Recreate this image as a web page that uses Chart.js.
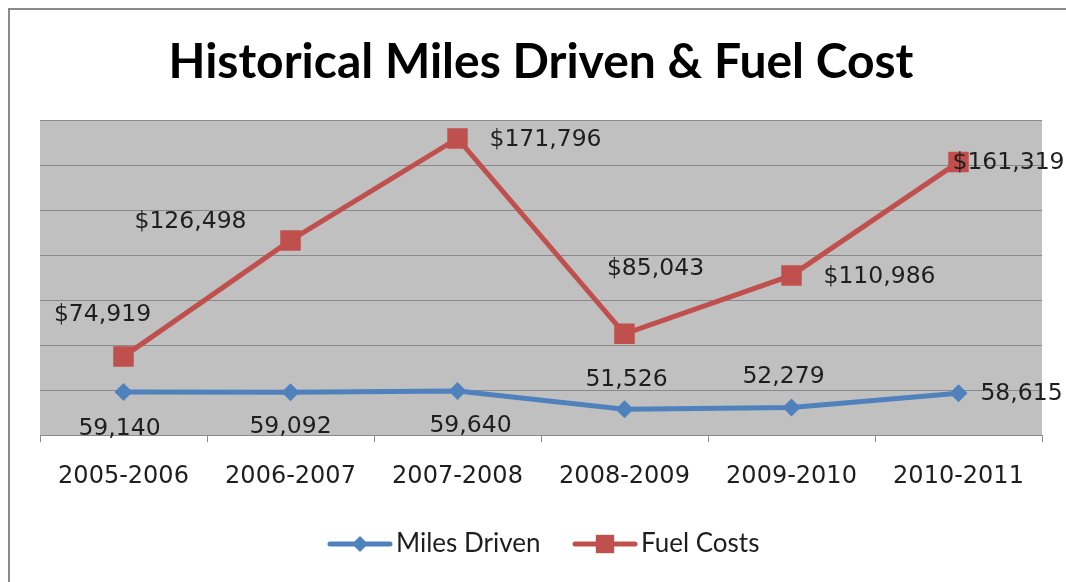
<!DOCTYPE html>
<html>
<head>
<meta charset="utf-8">
<script src="https://cdn.jsdelivr.net/npm/chart.js@4"></script>
<style>
  html, body { margin: 0; padding: 0; background: #fff; }
  #wrap { width: 1066px; height: 582px; position: relative; }
</style>
</head>
<body>
<div id="wrap"><canvas id="myChart" width="1066" height="582"></canvas></div>
<script>
const categories = ['2005-2006', '2006-2007', '2007-2008', '2008-2009', '2009-2010', '2010-2011'];
const milesDriven = [59140, 59092, 59640, 51526, 52279, 58615];
const fuelCosts = [74919, 126498, 171796, 85043, 110986, 161319];
const yMin = 40000;
const yMax = 180000;
const yStep = 20000;

// label offsets from each point (dx, dy), like Excel's hand-placed labels
const milesLabelOffsets = [[-4, 37], [0, 35], [13, 35], [2, -29], [-8, -31], [63, 1]];
const fuelLabelOffsets = [[-21, -42], [-100, -19], [88, 1], [31, -65], [88, 2], [50, 1]];

const blue = '#4F81BD';
const red = '#C0504D';

const plotBg = {
    id: 'plotBg',
    beforeDraw(chart) {
        const ctx = chart.ctx;
        const a = chart.chartArea;
        ctx.save();
        ctx.fillStyle = '#fff';
        ctx.fillRect(0, 0, chart.width, chart.height);
        ctx.strokeStyle = '#8a8a8a';
        ctx.lineWidth = 2;
        ctx.beginPath();
        ctx.moveTo(9, chart.height);
        ctx.lineTo(9, 9);
        ctx.lineTo(chart.width, 9);
        ctx.stroke();
        ctx.fillStyle = '#C0C0C0';
        ctx.fillRect(a.left, a.top, a.right - a.left, a.bottom - a.top);
        ctx.restore();
    }
};

const pointLabels = {
    id: 'pointLabels',
    afterDatasetsDraw(chart) {
        const ctx = chart.ctx;
        ctx.save();
        ctx.font = '23.5px "DejaVu Sans"';
        ctx.fillStyle = '#1e1e1e';
        ctx.textAlign = 'center';
        ctx.textBaseline = 'middle';
        chart.data.datasets.forEach((ds, i) => {
            const meta = chart.getDatasetMeta(i);
            meta.data.forEach((pt, j) => {
                const off = ds.labelOffsets[j];
                const v = ds.data[j].toLocaleString('en-US');
                ctx.fillText((ds.prefix || '') + v, pt.x + off[0], pt.y + off[1]);
            });
        });
        ctx.restore();
    }
};

const lineLegend = {
    id: 'lineLegend',
    afterDraw(chart) {
        const ctx = chart.ctx;
        const y = 544;
        const items = [
            { ds: chart.data.datasets[0], x: 330 },
            { ds: chart.data.datasets[1], x: 575 }
        ];
        ctx.save();
        ctx.font = '26px Lato';
        ctx.textBaseline = 'middle';
        ctx.textAlign = 'left';
        items.forEach(it => {
            ctx.strokeStyle = it.ds.borderColor;
            ctx.lineWidth = 5;
            ctx.lineCap = 'round';
            ctx.beginPath();
            ctx.moveTo(it.x, y);
            ctx.lineTo(it.x + 60, y);
            ctx.stroke();
            ctx.fillStyle = it.ds.backgroundColor;
            Chart.helpers.drawPoint(ctx, {
                pointStyle: it.ds.pointStyle,
                radius: it.ds.pointStyle === 'rect' ? 13 : 8,
                rotation: 0,
                borderWidth: 0
            }, it.x + 30, y);
            ctx.fillStyle = '#1e1e1e';
            ctx.fillText(it.ds.label, it.x + 66, y);
        });
        ctx.restore();
    }
};

new Chart(document.getElementById('myChart').getContext('2d'), {
    type: 'line',
    data: {
        labels: categories,
        datasets: [{
            label: 'Miles Driven',
            data: milesDriven,
            borderColor: blue,
            backgroundColor: blue,
            borderWidth: 5,
            pointStyle: 'rectRot',
            pointRadius: 9,
            pointBorderWidth: 0,
            tension: 0,
            labelOffsets: milesLabelOffsets
        }, {
            label: 'Fuel Costs',
            data: fuelCosts,
            borderColor: red,
            backgroundColor: red,
            borderWidth: 5,
            pointStyle: 'rect',
            pointRadius: 14.5,
            pointBorderWidth: 0,
            tension: 0,
            prefix: '$',
            labelOffsets: fuelLabelOffsets
        }]
    },
    options: {
        responsive: false,
        animation: false,
        layout: {
            padding: { left: 40, right: 24, top: 0, bottom: 71 }
        },
        scales: {
            x: {
                offset: true,
                grid: {
                    offset: true,
                    drawOnChartArea: false,
                    drawTicks: true,
                    tickLength: 7,
                    color: '#8a8a8a'
                },
                border: { display: true, color: '#8a8a8a', width: 1 },
                ticks: {
                    padding: 20,
                    color: '#1e1e1e',
                    font: { family: '"DejaVu Sans"', size: 24 }
                }
            },
            y: {
                min: yMin,
                max: yMax,
                ticks: { display: false, stepSize: yStep },
                grid: { color: '#8a8a8a', drawTicks: false, lineWidth: 1 },
                border: { display: false }
            }
        },
        plugins: {
            legend: { display: false },
            tooltip: { enabled: false },
            title: {
                display: true,
                text: 'Historical Miles Driven & Fuel Cost',
                color: '#000',
                font: { family: 'Lato', weight: 'bold', size: 48 },
                padding: { top: 33.7, bottom: 28.7 }
            }
        }
    },
    plugins: [plotBg, pointLabels, lineLegend]
});
</script>
</body>
</html>
